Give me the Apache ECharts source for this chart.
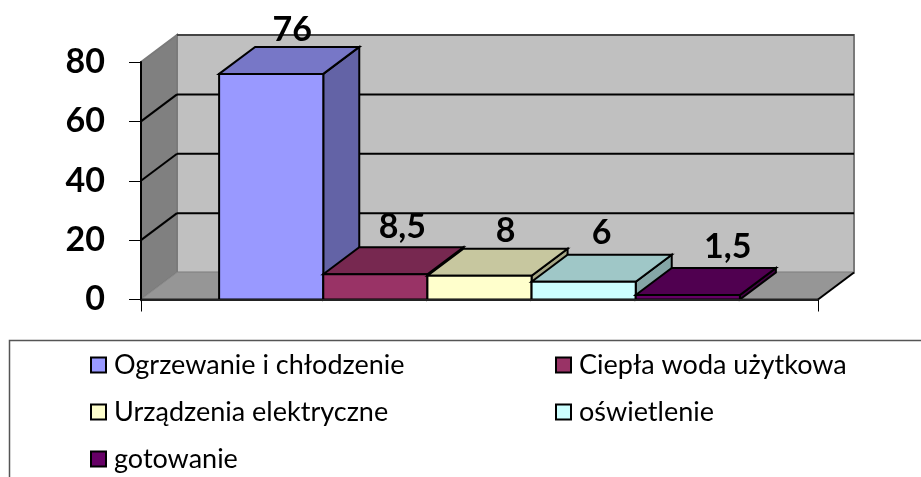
<!DOCTYPE html>
<html>
<head>
<meta charset="utf-8">
<style>html,body{margin:0;background:#fff}#chart{width:921px;height:477px}</style>
<script src="https://cdn.jsdelivr.net/npm/echarts@6/dist/echarts.min.js"></script>
</head>
<body>
<div id="chart"></div>
<script>
const names = ['Ogrzewanie i chłodzenie', 'Ciepła woda użytkowa', 'Urządzenia elektryczne', 'oświetlenie', 'gotowanie'];
const values = [76, 8.5, 8, 6, 1.5];
const colors = ['#9999ff', '#993366', '#ffffcc', '#ccffff', '#660066'];
const wallTicks = [20, 40, 60, 80];
const categories = [''];

// depth of the fake 3d box, px
const DX = 36, DY = 27;
// labels were placed by hand in the original
const labelShift = [21, 27, 26, 18, 40];
const labelLift = [0, 3, 1, 5, 4];
const FONT = 'Lato, "Open Sans", sans-serif';

function shade(hex, k) {
  const n = parseInt(hex.slice(1), 16);
  const ch = s => Math.round(((n >> s) & 255) * k);
  return 'rgb(' + ch(16) + ',' + ch(8) + ',' + ch(0) + ')';
}

function poly(points, fill, stroke, lineWidth) {
  return { type: 'polygon', shape: { points }, style: { fill, stroke, lineWidth } };
}

function line(a, b, stroke, lineWidth) {
  return { type: 'line', shape: { x1: a[0], y1: a[1], x2: b[0], y2: b[1] }, style: { stroke, lineWidth } };
}

function renderWalls(params, api) {
  const half = api.size([1, 0])[0] / 2;
  const x0 = api.coord([0, 0])[0] - half;
  const x1 = x0 + half * 2;
  const y0 = api.coord([0, 0])[1];
  const yTop = api.coord([0, wallTicks[wallTicks.length - 1]])[1];
  const children = [
    poly([[x0 + DX, yTop - DY], [x1 + DX, yTop - DY], [x1 + DX, y0 - DY], [x0 + DX, y0 - DY]], '#c0c0c0', '#7a7a7a', 2),
    poly([[x0, yTop], [x0 + DX, yTop - DY], [x0 + DX, y0 - DY], [x0, y0]], '#808080', '#7a7a7a', 2),
    poly([[x0, y0], [x0 + DX, y0 - DY], [x1 + DX, y0 - DY], [x1, y0]], '#969696', '#8a8a8a', 1)
  ];
  wallTicks.slice(0, -1).forEach(t => {
    const y = api.coord([0, t])[1];
    children.push(line([x0, y], [x0 + DX, y - DY], '#000', 2));
    children.push(line([x0 + DX, y - DY], [x1 + DX, y - DY], '#000', 2));
  });
  children.push(line([x0 + DX, yTop - DY], [x1 + DX, yTop - DY], '#444', 2));
  children.push(line([x1, y0], [x1 + DX, y0 - DY], '#000', 2));
  children.push(line([x0, y0], [x1, y0], '#222', 2));
  return { type: 'group', children };
}

function renderBar(i) {
  return function (params, api) {
    const band = api.size([1, 0])[0];
    const w = band / 6.5;
    const top = api.coord([0, api.value(1)]);
    const y0 = api.coord([0, 0])[1];
    const xl = top[0] + (i - 2.5) * w;
    const xr = xl + w;
    const yt = top[1];
    const c = colors[i];
    return {
      type: 'group',
      children: [
        poly([[xr, yt], [xr + DX, yt - DY], [xr + DX, y0 - DY], [xr, y0]], shade(c, 0.65), '#000', 2),
        poly([[xl, yt], [xl + DX, yt - DY], [xr + DX, yt - DY], [xr, yt]], shade(c, 0.78), '#000', 2),
        poly([[xl, yt], [xr, yt], [xr, y0], [xl, y0]], c, '#000', 2),
        {
          type: 'text',
          style: {
            text: String(values[i]).replace('.', ','),
            x: (xl + xr) / 2 + labelShift[i],
            y: yt - DY - labelLift[i],
            fill: '#000',
            font: 'bold 34px ' + FONT,
            textAlign: 'center',
            textVerticalAlign: 'bottom'
          }
        }
      ]
    };
  };
}

const series = [{ type: 'custom', name: 'walls', silent: true, data: [[0, 0]], encode: { x: 0, y: 1 }, renderItem: renderWalls }];
names.forEach((name, i) => {
  series.push({
    type: 'custom',
    name,
    silent: true,
    itemStyle: { color: colors[i] },
    data: [[0, values[i]]],
    encode: { x: 0, y: 1 },
    renderItem: renderBar(i)
  });
});

const legendBase = {
  orient: 'vertical',
  icon: 'rect',
  itemWidth: 15,
  itemHeight: 15,
  itemGap: 17,
  padding: 0,
  selectedMode: false,
  itemStyle: { borderColor: '#000', borderWidth: 2 },
  textStyle: { fontFamily: FONT, fontSize: 27, color: '#000', padding: [0, 0, 0, 3], lineHeight: 30 }
};

const chart = echarts.init(document.getElementById('chart'), null, { renderer: 'canvas' });
chart.setOption({
  animation: false,
  backgroundColor: '#fff',
  grid: { left: 141, right: 103, top: 62, bottom: 177.5 },
  xAxis: {
    type: 'category',
    data: categories,
    z: 5,
    axisLine: { lineStyle: { color: '#222', width: 2 } },
    axisTick: { show: true, length: 12, lineStyle: { color: '#000', width: 1 } },
    axisLabel: { show: false }
  },
  yAxis: {
    type: 'value',
    min: 0,
    max: 80,
    interval: 20,
    z: 5,
    splitLine: { show: false },
    axisLine: { show: true, lineStyle: { color: '#000', width: 2 } },
    axisTick: { show: true, length: 12, lineStyle: { color: '#000', width: 1 } },
    axisLabel: { margin: 36, color: '#000', fontFamily: FONT, fontWeight: 'bold', fontSize: 34 }
  },
  legend: [
    Object.assign({}, legendBase, { left: 90, top: 350, data: [names[0], names[2], names[4]] }),
    Object.assign({}, legendBase, { left: 555, top: 350, data: [names[1], names[3]] })
  ],
  graphic: [{
    type: 'rect',
    silent: true,
    shape: { x: 9.5, y: 340.5, width: 1000, height: 300 },
    style: { fill: 'none', stroke: '#555', lineWidth: 1.5 }
  }],
  series
});
</script>
</body>
</html>
